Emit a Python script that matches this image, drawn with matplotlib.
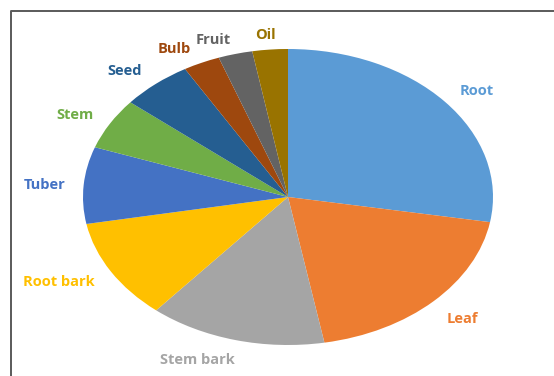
import matplotlib
matplotlib.use("Agg")
import matplotlib.pyplot as plt
from matplotlib.lines import Line2D

# share of plant parts used
parts = ["Root", "Leaf", "Stem bark", "Root bark", "Tuber",
         "Stem", "Seed", "Bulb", "Fruit", "Oil"]
shares = [27.8, 19.5, 14.0, 11.0, 8.4, 5.6, 5.6, 2.9, 2.7, 2.8]
colors = ["#5B9BD5", "#ED7D31", "#A5A5A5", "#FFC000", "#4472C4",
          "#70AD47", "#255E91", "#9E480E", "#636363", "#997300"]

# label anchors in the (stretched) pie's unit coordinates
label_xy = [(0.92, 0.716), (0.85, -0.824), (-0.444, -1.10), (-1.117, -0.574),
            (-1.185, 0.081), (-1.04, 0.554), (-0.795, 0.851), (-0.556, 1.0),
            (-0.366, 1.06), (-0.112, 1.095)]

W, H = 554, 376
fig = plt.figure(figsize=(W / 100, H / 100), dpi=100)
fig.patch.set_facecolor("white")

# frame line on the left and top
fig.add_artist(Line2D([11 / W, 11 / W, 1.0], [0.0, 1 - 11 / H, 1 - 11 / H],
                      color="#5a5a5a", lw=1.4, transform=fig.transFigure))

ax = fig.add_axes([83 / W, 31 / H, 410 / W, 296 / H])
ax.pie(shares, colors=colors, startangle=90, counterclock=False,
       wedgeprops=dict(linewidth=0))
ax.set_aspect("auto")
ax.set_xlim(-1, 1)
ax.set_ylim(-1, 1)
ax.axis("off")

for name, c, (x, y) in zip(parts, colors, label_xy):
    ax.text(x, y, name, color=c, fontsize=10.5, fontweight="bold",
            family="Open Sans", ha="center", va="center")

fig.savefig("out.png", dpi=100)
